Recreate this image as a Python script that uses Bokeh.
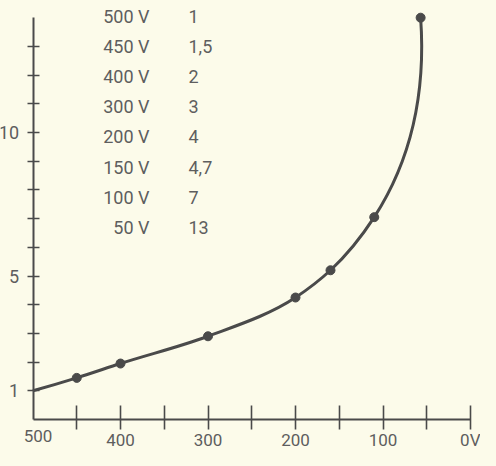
import numpy as np
from bokeh.plotting import figure
from bokeh.models import Range1d, FixedTicker
from bokeh.core.properties import value
from bokeh.embed import file_html
from bokeh.resources import INLINE

# ---------------- data ----------------
curve_volts = [500, 450, 400, 300, 200, 160, 110, 57]
curve_ratio = [1.0, 1.45, 1.95, 2.9, 4.25, 5.2, 7.05, 14.0]

table_volts = ["500 V", "450 V", "400 V", "300 V", "200 V", "150 V", "100 V", "50 V"]
table_ratio = ["1", "1,5", "2", "3", "4", "4,7", "7", "13"]

x_ticks = [450, 400, 350, 300, 250, 200, 150, 100, 50, 0]
x_tick_labels = {450: "", 400: "400", 350: "", 300: "300", 250: "", 200: "200",
                 150: "", 100: "100", 50: "", 0: "0V"}
x_origin = 500
x_origin_label = "500"
y_ticks = list(range(1, 14))
y_tick_labels = {t: "" for t in y_ticks}
y_tick_labels.update({1: "1", 5: "5", 10: "10"})

# ---------------- layout / style ----------------
W, H = 480, 450
X_ORIGIN_PX = 32.5      # canvas x of the 500 V origin
X_PX_PER_V = 0.875
Y_ZERO_PX = 419.0       # canvas y (from top) of the x axis
Y_PX_PER_UNIT = 28.7
X_LEFT = x_origin + X_ORIGIN_PX / X_PX_PER_V
X_RIGHT = x_origin - (W - X_ORIGIN_PX) / X_PX_PER_V
Y_BOTTOM = -(H - Y_ZERO_PX) / Y_PX_PER_UNIT
Y_TOP = Y_ZERO_PX / Y_PX_PER_UNIT
Y_AXIS_END = 14.0
X_TICK_OUT = 10
X_STANDOFF = 0
BG = "#fcfbea"
INK = "#4a4a4a"
TXT = "#5e5e5e"
FONT = "Roboto"

p = figure(width=W, height=H, output_backend="svg", toolbar_location=None,
           x_range=Range1d(X_LEFT, X_RIGHT), y_range=Range1d(Y_BOTTOM, Y_TOP),
           min_border_left=0, min_border_right=0,
           min_border_top=0, min_border_bottom=0)
p.background_fill_color = BG
p.border_fill_color = BG
p.outline_line_color = None
p.grid.visible = False

# axes
xa = p.xaxis[0]
xa.fixed_location = 0
xa.ticker = FixedTicker(ticks=x_ticks)
xa.major_label_overrides = x_tick_labels
xa.minor_tick_line_color = None
xa.major_tick_in = 14
xa.major_tick_out = X_TICK_OUT
xa.major_label_standoff = X_STANDOFF
xa.axis_line_color = INK
xa.axis_line_width = 2
xa.major_tick_line_color = INK
xa.major_tick_line_width = 1.6
xa.major_label_text_font = FONT
xa.major_label_text_font_size = "17px"
xa.major_label_text_color = TXT
xa.bounds = (x_origin, 0)

ya = p.yaxis[0]
ya.fixed_location = x_origin
ya.ticker = FixedTicker(ticks=y_ticks)
ya.major_label_overrides = y_tick_labels
ya.minor_tick_line_color = None
ya.major_tick_in = 6
ya.major_tick_out = 6
ya.major_label_standoff = 8
ya.axis_line_color = INK
ya.axis_line_width = 2
ya.major_tick_line_color = INK
ya.major_tick_line_width = 1.6
ya.major_label_text_font = FONT
ya.major_label_text_font_size = "18px"
ya.major_label_text_color = TXT
ya.bounds = (0, Y_AXIS_END)

p.text(x=[x_origin], y=[0], text=[x_origin_label], x_offset=5,
       y_offset=X_TICK_OUT + X_STANDOFF,
       text_align="center", text_baseline="top",
       text_font=value(FONT), text_font_size="17px", text_color=TXT)

# ---------------- smooth curve (Bezier through the points) ----------------
sx = X_PX_PER_V
sy = Y_PX_PER_UNIT
P = np.column_stack([np.array(curve_volts, float) * sx,
                     np.array(curve_ratio, float) * sy])
D = np.diff(P, axis=0)
d = np.hypot(D[:, 0], D[:, 1])
U = D / d[:, None]
n = len(P)
T = np.zeros_like(P)
for i in range(1, n - 1):
    T[i] = (d[i] * U[i - 1] + d[i - 1] * U[i]) / (d[i - 1] + d[i])
T[0] = 2 * U[0] - T[1]
T[-1] = 2 * U[-1] - T[-2]
C1 = P[:-1] + (d / 3)[:, None] * T[:-1]
C2 = P[1:] - (d / 3)[:, None] * T[1:]

p.bezier(x0=curve_volts[:-1], y0=curve_ratio[:-1],
         x1=curve_volts[1:], y1=curve_ratio[1:],
         cx0=C1[:, 0] / sx, cy0=C1[:, 1] / sy,
         cx1=C2[:, 0] / sx, cy1=C2[:, 1] / sy,
         line_color=INK, line_width=3)
p.scatter(curve_volts[1:], curve_ratio[1:], size=9, color=INK)

# ---------------- table text (placed in canvas pixels) ----------------
TABLE_TOP_PX = 16
ROW_STEP_PX = 30.1
TABLE_VOLTS_RIGHT_PX = 149
TABLE_RATIO_LEFT_PX = 188


def px_to_x(px):
    return x_origin - (px - X_ORIGIN_PX) / X_PX_PER_V


def px_to_y(py):
    return (Y_ZERO_PX - py) / Y_PX_PER_UNIT


rows_y = [px_to_y(TABLE_TOP_PX + i * ROW_STEP_PX) for i in range(len(table_volts))]
p.text(x=[px_to_x(TABLE_VOLTS_RIGHT_PX)] * len(table_volts), y=rows_y, text=table_volts,
       text_align="right", text_baseline="middle",
       text_font=value(FONT), text_font_size="18px", text_color=TXT)
p.text(x=[px_to_x(TABLE_RATIO_LEFT_PX)] * len(table_ratio), y=rows_y, text=table_ratio,
       text_align="left", text_baseline="middle",
       text_font=value(FONT), text_font_size="18px", text_color=TXT)

html = file_html(p, INLINE)
html = html.replace("</head>", "<style>body{background:%s;}</style></head>" % BG, 1)
open("out.html", "w").write(html)
